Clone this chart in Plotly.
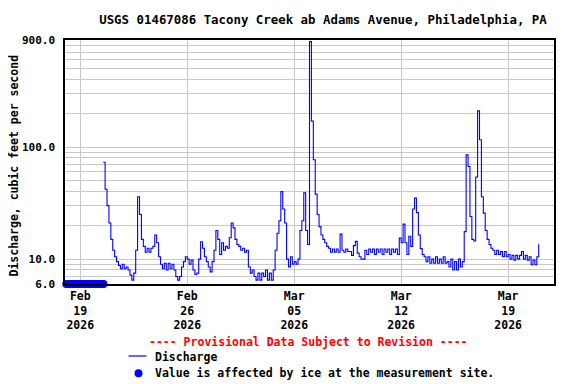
import math
import pandas as pd
import plotly.graph_objects as go

TITLE = "USGS 01467086 Tacony Creek ab Adams Avenue, Philadelphia, PA"
Y_TITLE = "Discharge, cubic feet per second"
PROVISIONAL = "---- Provisional Data Subject to Revision ----"
LEGEND_LINE = "Discharge"
LEGEND_ICE = "Value is affected by ice at the measurement site."

# Discharge (cfs), 3-hourly values starting 2026-02-20 12:00
DISCHARGE_START = "2026-02-20 12:00"
DISCHARGE_STEP = "3h"
DISCHARGE_VALUES = [
    73, 42, 30, 21,                              # Feb 20 (12h-21h)
    15, 12, 10.5, 9.5, 8.8, 8.2, 9, 8.2,         # Feb 21
    8.5, 8, 7.2, 6.5, 7.5, 12, 36, 25,           # Feb 22
    15, 13, 11.5, 12.5, 11.5, 12.5, 13, 16.4,    # Feb 23
    14, 10.5, 9, 8.2, 9.2, 8, 9.2, 8.2,          # Feb 24
    9, 8, 7, 6.5, 7, 8.5, 9.5, 10.5,             # Feb 25
    10, 9, 9.8, 8, 7.3, 7.5, 10, 14.3,           # Feb 26
    12.5, 10.5, 9.5, 8.5, 7.7, 9.5, 12, 18,      # Feb 27
    15, 11, 14, 12, 13, 12.5, 15.5, 21,          # Feb 28
    19, 15, 13.5, 13, 12, 12.5, 11.5, 12,        # Mar 1
    8.5, 7.5, 8, 7, 6.5, 7.5, 6.5, 7.5,          # Mar 2
    7, 8, 6.5, 7.5, 6.5, 8, 12, 17,              # Mar 3
    22, 40, 28, 21, 10, 8.5, 10.5, 9,            # Mar 4
    9.5, 9, 10, 18, 22, 39, 18, 13.5,            # Mar 5
    870, 170, 77, 38, 25, 19.5, 16.4, 15,        # Mar 6
    14, 13, 12.5, 11.5, 12.3, 11.5, 12.3, 11.5,  # Mar 7
    16.7, 12, 11.5, 12.3, 11.7, 11.7, 10.8, 13.2,  # Mar 8
    14.4, 11.3, 10.5, 10, 10, 12, 11, 12.3,      # Mar 9
    11.5, 12.3, 11, 12.3, 11.5, 12.3, 11, 12.3,  # Mar 10
    11.5, 12.3, 11, 12.3, 11.5, 12.3, 11, 15.4,  # Mar 11
    14, 20.5, 14, 11, 16, 13, 28, 35,            # Mar 12
    26, 16.4, 12.4, 11, 10.5, 9.5, 10.5, 9.2,    # Mar 13
    10, 9.2, 10.5, 9.2, 10, 9.2, 10.5, 9.2,      # Mar 14
    9.5, 8.5, 10, 8, 9.5, 8, 10, 8.5,            # Mar 15
    9.5, 17.6, 85, 67, 24, 15, 14.5, 54,         # Mar 16
    210, 116, 36, 25.7, 18, 15, 13.5, 12.5,      # Mar 17
    12, 11, 12, 11, 11.7, 10.5, 11.7, 10.5,      # Mar 18
    11, 10, 10.8, 9.8, 10.8, 10, 10.8, 11.7,     # Mar 19
    10, 10.8, 9.8, 10.5, 8.9, 9.8, 8.9, 10.5,    # Mar 20
    13.6,                                        # Mar 21 00h
]

# Ice-affected values (plotted at the bottom of the axis)
ICE_TIMES = [
    "2026-02-18 02:00", "2026-02-18 05:00", "2026-02-18 08:00", "2026-02-18 11:00",
    "2026-02-18 14:00", "2026-02-18 17:00", "2026-02-18 20:00", "2026-02-18 23:00",
    "2026-02-19 02:00", "2026-02-19 05:00", "2026-02-19 08:00", "2026-02-19 11:00",
    "2026-02-19 14:00", "2026-02-19 17:00", "2026-02-19 20:00", "2026-02-19 23:00",
    "2026-02-20 02:00", "2026-02-20 05:00", "2026-02-20 08:00", "2026-02-20 11:00",
    "2026-02-20 12:30",
]
ICE_VALUES = [6.0, 6.0, 6.0, 6.0, 6.0, 6.0, 6.0, 6.0, 6.0, 6.0, 6.0,
              6.0, 6.0, 6.0, 6.0, 6.0, 6.0, 6.0, 6.0, 6.0, 6.0]

X_RANGE = ["2026-02-18 00:00", "2026-03-22 00:00"]
X_TICK_DATES = ["2026-02-19", "2026-02-26", "2026-03-05", "2026-03-12", "2026-03-19"]
X_TICK_LABELS = ["Feb<br>19<br>2026", "Feb<br>26<br>2026", "Mar<br>05<br>2026",
                 "Mar<br>12<br>2026", "Mar<br>19<br>2026"]

Y_RANGE = [6, 900]
Y_GRID_VALUES = [6, 7, 8, 9, 10, 20, 30, 40, 50, 60, 70, 80, 90,
                 100, 200, 300, 400, 500, 600, 700, 800, 900]
Y_LABELED = {6: "6.0", 10: "10.0", 100: "100.0", 900: "900.0"}

times = pd.date_range(DISCHARGE_START, periods=len(DISCHARGE_VALUES), freq=DISCHARGE_STEP)

FONT = "DejaVu Sans Mono"
BLUE = "#0000ff"

# The page body has an 8px margin, so the figure sits at (8, 8) in the window.
OFF = 8
W, H = 576 - OFF, 384 - OFF
L, R, T, B = 65 - OFF, 22, 40 - OFF, 100
PW, PH = W - L - R, H - T - B


def px(x):  # window pixel -> paper x
    return (x - OFF - L) / PW


def py(y):  # window pixel -> paper y
    return (H - B - (y - OFF)) / PH


fig = go.Figure()
fig.add_trace(go.Scatter(
    x=times, y=DISCHARGE_VALUES, mode="lines", line=dict(color=BLUE, width=1.1, shape="hv"),
    showlegend=False, hoverinfo="skip"))
fig.add_trace(go.Scatter(
    x=ICE_TIMES, y=ICE_VALUES, mode="markers",
    marker=dict(color=BLUE, size=8, symbol="circle"), cliponaxis=False,
    showlegend=False, hoverinfo="skip"))

fig.update_layout(
    width=W, height=H,
    margin=dict(l=L, r=R, t=T, b=B, pad=0),
    paper_bgcolor="white", plot_bgcolor="white",
    font=dict(family=FONT, size=11, color="black", weight="bold"),
    showlegend=False,
    title=dict(text=TITLE, x=(323 - OFF) / W, xanchor="center", y=1 - (20 - OFF) / H,
               yanchor="middle",
               font=dict(family=FONT, size=12.4, color="black", weight="bold")),
)

fig.update_xaxes(
    type="date", range=X_RANGE,
    tickvals=X_TICK_DATES, ticktext=X_TICK_LABELS, tickangle=0,
    showgrid=True, gridcolor="#c8c8c8", gridwidth=1,
    showline=True, linecolor="black", linewidth=1.5, mirror=True,
    ticks="", zeroline=False,
    tickfont=dict(family=FONT, size=11.5, color="black", weight="bold"),
)
# tiny epsilon below the bottom so points sitting exactly on it are not culled
fig.update_yaxes(
    type="log", range=[math.log10(Y_RANGE[0]) - 1e-6, math.log10(Y_RANGE[1])],
    tickvals=Y_GRID_VALUES, ticktext=[Y_LABELED.get(v, "") for v in Y_GRID_VALUES],
    showgrid=True, gridcolor="#c8c8c8", gridwidth=1,
    showline=True, linecolor="black", linewidth=1.5, mirror=True,
    ticks="", zeroline=False, ticklabelstandoff=6,
    tickfont=dict(family=FONT, size=11, color="black", weight="bold"),
)

# y-axis title
fig.add_annotation(text=Y_TITLE, xref="paper", yref="paper", x=px(13), y=py(165.5),
                   textangle=-90, showarrow=False, xanchor="center", yanchor="middle",
                   font=dict(family=FONT, size=11.5, color="black", weight="bold"))

# provisional notice + legend
fig.add_annotation(text=PROVISIONAL, xref="paper", yref="paper", x=px(308), y=py(342),
                   showarrow=False, xanchor="center", yanchor="middle",
                   font=dict(family=FONT, size=11.5, color="#ff0000", weight="bold"))
fig.add_shape(type="line", xref="paper", yref="paper", x0=px(128.5), x1=px(146.5),
              y0=py(356), y1=py(356), line=dict(color=BLUE, width=1.2))
fig.add_annotation(text=LEGEND_LINE, xref="paper", yref="paper", x=px(153), y=py(357),
                   showarrow=False, xanchor="left", yanchor="middle",
                   font=dict(family=FONT, size=11.5, color="black", weight="bold"))
fig.add_shape(type="circle", xref="paper", yref="paper", x0=px(134.5), x1=px(142.5),
              y0=py(377.3), y1=py(369.3), fillcolor=BLUE, line=dict(width=0))
fig.add_annotation(text=LEGEND_ICE, xref="paper", yref="paper", x=px(153), y=py(373),
                   showarrow=False, xanchor="left", yanchor="middle",
                   font=dict(family=FONT, size=11.5, color="black", weight="bold"))

fig.write_html("out.html")
